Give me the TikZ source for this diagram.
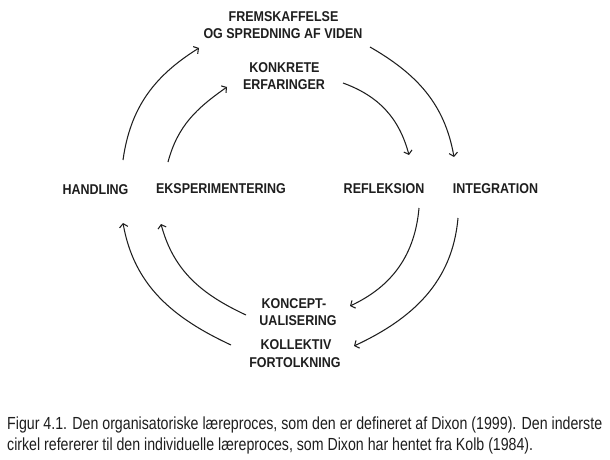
\documentclass[tikz,border=0pt]{standalone}
\usepackage{fontspec}
\usetikzlibrary{arrows.meta}
\newfontfamily\labfont{Liberation Sans}[FakeStretch=0.88]
\newfontfamily\capfont{Liberation Sans}
\definecolor{ink}{RGB}{30,30,30}
\begin{document}
\begin{tikzpicture}[x=1pt,y=1pt,
  lab/.style={anchor=base,inner sep=0pt,text=ink,font=\labfont\bfseries\fontsize{14.2}{16}\selectfont},
  captext/.style={anchor=base west,inner sep=0pt,text=ink,font=\capfont\fontsize{17.5}{20}\selectfont},
  flow/.style={draw=ink,line width=1.05pt,-{Straight Barb[length=3.5pt,width=8.5pt,line width=1.05pt]}}]
\useasboundingbox (0,0) rectangle (610,-460);
\fill[white] (0,0) rectangle (610,-460);
% labels
\node[lab] (fr1) at (283.5,-21.7) {FREMSKAFFELSE};
\node[lab] (fr2) at (283,-39) {OG SPREDNING AF VIDEN};
\node[lab] (ko1) at (284.5,-72.3) {KONKRETE};
\node[lab] (ko2) at (284,-89.3) {ERFARINGER};
\node[lab] (han) at (95.5,-194) {HANDLING};
\node[lab] (eks) at (221,-193.5) {EKSPERIMENTERING};
\node[lab] (ref) at (384,-193.3) {REFLEKSION};
\node[lab] (int) at (495.5,-193.3) {INTEGRATION};
\node[lab] (kc1) at (294,-308) {KONCEPT-};
\node[lab] (kc2) at (298,-325) {UALISERING};
\node[lab] (kl1) at (296,-349) {KOLLEKTIV};
\node[lab] (kl2) at (295,-367) {FORTOLKNING};
% arrow end points
\coordinate (o1s) at (123,-160); \coordinate (o1e) at (199,-48);
\coordinate (o2s) at (370,-47);  \coordinate (o2e) at (454,-157);
\coordinate (o3s) at (458,-218); \coordinate (o3e) at (354,-346);
\coordinate (o4s) at (231,-345); \coordinate (o4e) at (123,-223);
\coordinate (i1s) at (168,-162); \coordinate (i1e) at (227,-87);
\coordinate (i2s) at (343,-83);  \coordinate (i2e) at (409,-155);
\coordinate (i3s) at (419,-208); \coordinate (i3e) at (350,-306);
\coordinate (i4s) at (246,-315); \coordinate (i4e) at (161,-224);
% outer cycle
\draw[flow] (o1s) to[out=82,in=212] (o1e);
\draw[flow] (o2s) to[out=-30,in=100] (o2e);
\draw[flow] (o3s) to[out=-95,in=25] (o3e);
\draw[flow] (o4s) to[out=155,in=-80] (o4e);
% inner cycle
\draw[flow] (i1s) to[out=75,in=215] (i1e);
\draw[flow] (i2s) to[out=-20,in=105] (i2e);
\draw[flow] (i3s) to[out=-95,in=25] (i3e);
\draw[flow] (i4s) to[out=155,in=-75] (i4e);
% caption
\node[captext] (c1) at (7,-429) {\resizebox{595pt}{\height}{Figur 4.1. Den organisatoriske læreproces, som den er defineret af Dixon (1999). Den inderste}};
\node[captext] (c2) at (7,-450) {\resizebox{526pt}{\height}{cirkel refererer til den individuelle læreproces, som Dixon har hentet fra Kolb (1984).}};
\end{tikzpicture}
\end{document}
